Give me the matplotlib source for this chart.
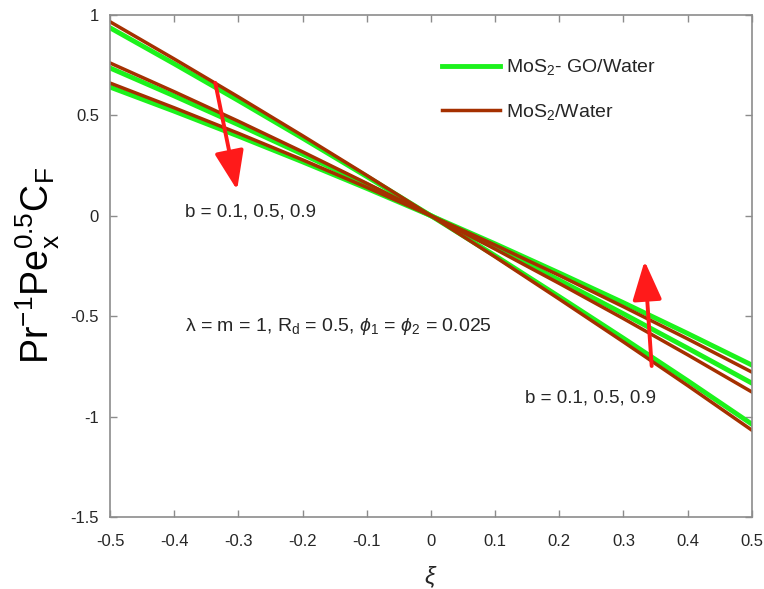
import matplotlib.pyplot as plt

plt.rcParams["font.family"] = ["Liberation Sans", "DejaVu Sans"]
plt.rcParams["mathtext.fontset"] = "custom"
plt.rcParams["mathtext.rm"] = "Liberation Sans"
plt.rcParams["mathtext.it"] = "Liberation Sans:italic"
plt.rcParams["mathtext.bf"] = "Liberation Sans:bold"

xi = [-0.5, -0.4, -0.3, -0.2, -0.1, 0.0, 0.1, 0.2, 0.3, 0.4, 0.5]

# MoS2-GO/Water, b = 0.1, 0.5, 0.9
green_b01 = [0.935, 0.756, 0.573, 0.386, 0.195, 0.0, -0.199, -0.403, -0.610, -0.821, -1.037]
green_b05 = [0.735, 0.596, 0.453, 0.306, 0.155, 0.0, -0.159, -0.321, -0.488, -0.659, -0.833]
green_b09 = [0.640, 0.520, 0.396, 0.268, 0.136, 0.0, -0.140, -0.285, -0.433, -0.586, -0.743]

# MoS2/Water, b = 0.1, 0.5, 0.9
brown_b01 = [0.965, 0.780, 0.591, 0.398, 0.201, 0.0, -0.205, -0.415, -0.628, -0.845, -1.067]
brown_b05 = [0.760, 0.617, 0.470, 0.318, 0.161, 0.0, -0.166, -0.337, -0.512, -0.692, -0.877]
brown_b09 = [0.660, 0.537, 0.410, 0.278, 0.141, 0.0, -0.146, -0.297, -0.453, -0.613, -0.778]

xticks = [-0.5, -0.4, -0.3, -0.2, -0.1, 0, 0.1, 0.2, 0.3, 0.4, 0.5]
xticklabels = ["-0.5", "-0.4", "-0.3", "-0.2", "-0.1", "0", "0.1", "0.2", "0.3", "0.4", "0.5"]
yticks = [-1.5, -1, -0.5, 0, 0.5, 1]
yticklabels = ["-1.5", "-1", "-0.5", "0", "0.5", "1"]

GREEN = "#1CF21C"
BROWN = "#A53000"
GRAY = "#8C8C8C"
TEXT = "#262626"

fig = plt.figure(figsize=(7.64, 5.89), dpi=100)
ax = fig.add_axes([0.144, 0.122, 0.840, 0.853])

for i, ys in enumerate([green_b01, green_b05, green_b09]):
    ax.plot(xi, ys, color=GREEN, lw=3.5, label="MoS$_2$- GO/Water" if i == 0 else None)
for i, ys in enumerate([brown_b01, brown_b05, brown_b09]):
    ax.plot(xi, ys, color=BROWN, lw=2.5, label="MoS$_2$/Water" if i == 0 else None)

ax.set_xlim(-0.5, 0.5)
ax.set_ylim(-1.5, 1)
ax.set_xticks(xticks)
ax.set_xticklabels(xticklabels)
ax.set_yticks(yticks)
ax.set_yticklabels(yticklabels)
ax.tick_params(direction="in", top=True, right=True, length=5, width=1,
               color=GRAY, labelcolor=TEXT, labelsize=12)
ax.tick_params(axis="x", pad=12)
ax.tick_params(axis="y", pad=8)
for sp in ax.spines.values():
    sp.set_color(GRAY)
    sp.set_linewidth(1.2)

ax.set_xlabel(r"$\xi$", fontsize=17, color=TEXT, labelpad=11)
ax.set_ylabel(r"Pr$^{-1}$Pe$_\mathrm{x}^{0.5}$C$_\mathrm{F}$", fontsize=27,
              color="black", labelpad=6)

leg = ax.legend(loc="upper left", bbox_to_anchor=(0.49, 0.95), frameon=False,
                fontsize=14, handlelength=3.0, handletextpad=0.3, labelspacing=1.25)
for t in leg.get_texts():
    t.set_color(TEXT)

arrow = dict(arrowstyle="-|>,head_length=1.2,head_width=0.45", color="#FF1A1A",
             lw=2.8, mutation_scale=20, shrinkA=0, shrinkB=0)
ax.annotate("", xy=(-0.302, 0.128), xytext=(-0.336, 0.661), arrowprops=arrow)
ax.annotate("", xy=(0.333, -0.225), xytext=(0.344, -0.748), arrowprops=arrow)

ax.text(-0.383, 0.019, "b = 0.1, 0.5, 0.9", fontsize=13.5, color=TEXT, va="center")
ax.text(0.146, -0.907, "b = 0.1, 0.5, 0.9", fontsize=13.5, color=TEXT, va="center")
ax.text(-0.383, -0.549,
        r"λ = m = 1, R$_\mathrm{d}$ = 0.5, $\phi_\mathrm{1}$ = $\phi_\mathrm{2}$ = 0.025",
        fontsize=14, color=TEXT, va="center")

fig.savefig("out.png", dpi=100)
